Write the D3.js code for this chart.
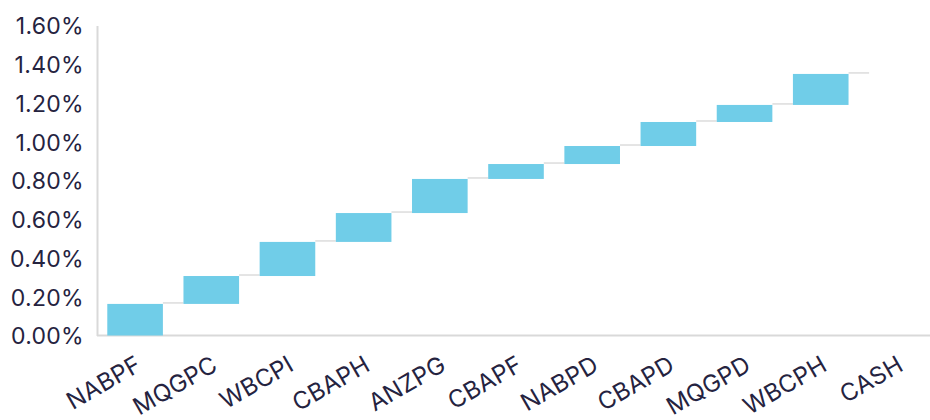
<!DOCTYPE html>
<html lang="en">
<head>
    <meta charset="UTF-8">
    <title>Waterfall</title>
    <script src="https://d3js.org/d3.v7.min.js"></script>
    <style>
        body { margin: 0; background: #fff; }
        svg { display: block; }
        text { font-family: Inter, "Noto Sans", sans-serif; fill: #25233f; }
    </style>
</head>
<body>
<script>

  // DATA (increments, in %)
  const categories = ["NABPF", "MQGPC", "WBCPI", "CBAPH", "ANZPG", "CBAPF", "NABPD", "CBAPD", "MQGPD", "WBCPH", "CASH"];
  const increments = [0.163, 0.144, 0.176, 0.149, 0.176, 0.077, 0.093, 0.124, 0.088, 0.160, 0];
  const yTicks = [0, 0.2, 0.4, 0.6, 0.8, 1.0, 1.2, 1.4, 1.6];

  const width = 930, height = 420;
  const mLeft = 97, mTop = 25.5, mBottom = 335.5;

  // running totals
  let run = 0;
  const rows = categories.map((c, i) => {
    const start = run;
    run += increments[i];
    return { name: c, start: start, end: run };
  });

  const svg = d3.select("body").append("svg")
      .attr("width", width)
      .attr("height", height);

  // SCALES
  const x = d3.scaleBand()
      .domain(categories)
      .range([mLeft, 935])
      .paddingInner(0.27)
      .paddingOuter(0.135);

  const y = d3.scaleLinear()
      .domain([0, 1.6])
      .range([mBottom, mTop]);

  // AXES
  const yAxis = d3.axisLeft(y).tickValues(yTicks).tickFormat(d => d.toFixed(2) + "%").tickSize(0).tickPadding(13);
  const gy = svg.append("g").attr("transform", `translate(${mLeft},0)`).call(yAxis);
  gy.select(".domain").attr("stroke", "#d9d9d9").attr("stroke-width", 2);
  gy.selectAll("text").style("font-size", "23px").style("letter-spacing", "0.3px").attr("dy", "0.36em");

  const xAxis = d3.axisBottom(x).tickSize(0).tickPadding(0);
  const gx = svg.append("g").attr("transform", `translate(0,${mBottom})`).call(xAxis);
  gx.select(".domain").attr("d", `M${mLeft},0H${width}`).attr("stroke", "#d9d9d9").attr("stroke-width", 2);
  gx.selectAll("text")
      .style("font-size", "24px")
      .style("letter-spacing", "0.3px")
      .attr("text-anchor", "end")
      .attr("dy", null)
      .attr("y", null)
      .attr("transform", "translate(8,34) rotate(-30)");

  // CONNECTORS
  svg.append("g").selectAll("line")
      .data(rows.slice(0, -1))
      .join("line")
      .attr("x1", d => x(d.name) + x.bandwidth())
      .attr("x2", (d, i) => x(categories[i + 1]))
      .attr("y1", d => y(d.end) - 1)
      .attr("y2", d => y(d.end) - 1)
      .attr("stroke", "#dcdcdc")
      .attr("stroke-width", 1.5);

  // BARS
  svg.append("g").selectAll("rect")
      .data(rows)
      .join("rect")
      .attr("x", d => x(d.name))
      .attr("width", x.bandwidth())
      .attr("y", d => y(d.end))
      .attr("height", d => y(d.start) - y(d.end))
      .attr("fill", "#70cde8");

</script>
</body>
</html>
